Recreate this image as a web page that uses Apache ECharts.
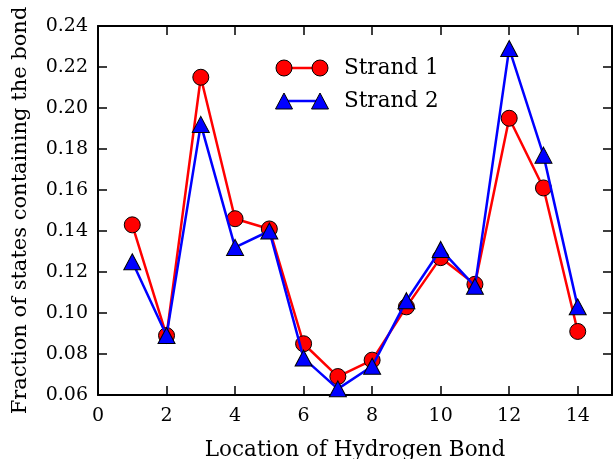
<!DOCTYPE html>
<html>
<head>
<meta charset="utf-8">
<script src="https://cdn.jsdelivr.net/npm/echarts@6/dist/echarts.min.js"></script>
<style>
  html, body { margin: 0; padding: 0; background: #fff; }
  #chart { width: 613px; height: 459px; }
</style>
</head>
<body>
<div id="chart"></div>
<script>
// Hydrogen bond positions along the strand
var bondLocations = [1, 2, 3, 4, 5, 6, 7, 8, 9, 10, 11, 12, 13, 14];
// Fraction of states in which each bond is present
var strand1 = [0.143, 0.089, 0.215, 0.146, 0.141, 0.085, 0.069, 0.077, 0.103, 0.127, 0.114, 0.195, 0.161, 0.091];
var strand2 = [0.125, 0.089, 0.192, 0.132, 0.140, 0.078, 0.063, 0.074, 0.106, 0.131, 0.113, 0.229, 0.177, 0.103];
var seriesNames = ['Strand 1', 'Strand 2'];

var FONT = 'DejaVu Serif';
var chart = echarts.init(document.getElementById('chart'), null, { renderer: 'canvas' });

function pairs(values) {
  return bondLocations.map(function (x, i) { return [x, values[i]]; });
}

var tickCommon = { show: true, inside: true, length: 9, lineStyle: { color: '#000', width: 1.5 } };
var lineCommon = { show: true, onZero: false, lineStyle: { color: '#000', width: 2 } };

var option = {
  animation: false,
  backgroundColor: '#fff',
  grid: { left: 98, right: 1, top: 26, bottom: 64, containLabel: false, outerBoundsMode: 'none' },
  xAxis: [{
    type: 'value', min: 0, max: 15, interval: 2,
    name: 'Location of Hydrogen Bond', nameLocation: 'middle', nameGap: 44,
    nameTextStyle: { fontFamily: FONT, fontSize: 21.5, color: '#000' },
    axisLine: lineCommon, axisTick: tickCommon, splitLine: { show: false },
    axisLabel: {
      margin: 12, fontFamily: FONT, fontSize: 19, color: '#000', showMaxLabel: false,
      formatter: function (v) { return v % 2 === 0 ? String(v) : ''; }
    }
  }, {
    type: 'value', min: 0, max: 15, interval: 2, position: 'top',
    axisLine: lineCommon, axisTick: tickCommon, splitLine: { show: false },
    axisLabel: { show: false }
  }],
  yAxis: [{
    type: 'value', min: 0.06, max: 0.24, interval: 0.02,
    name: 'Fraction of states containing the bond', nameLocation: 'middle', nameGap: 67,
    nameRotate: 90,
    nameTextStyle: { fontFamily: FONT, fontSize: 21, color: '#000' },
    axisLine: lineCommon, axisTick: tickCommon, splitLine: { show: false },
    axisLabel: {
      margin: 10, fontFamily: FONT, fontSize: 19, color: '#000',
      formatter: function (v) { return v.toFixed(2); }
    }
  }, {
    type: 'value', min: 0.06, max: 0.24, interval: 0.02, position: 'right',
    axisLine: lineCommon, axisTick: tickCommon, splitLine: { show: false },
    axisLabel: { show: false }
  }],
  series: [{
    name: seriesNames[0], type: 'line', z: 2,
    data: pairs(strand1),
    symbol: 'circle', symbolSize: 16,
    lineStyle: { color: '#ff0000', width: 2.5 },
    itemStyle: { color: '#ff0000', borderColor: '#000', borderWidth: 1 },
    clip: false
  }, {
    name: seriesNames[1], type: 'line', z: 3,
    data: pairs(strand2),
    symbol: 'triangle', symbolSize: [17, 16],
    lineStyle: { color: '#0000ff', width: 2.5 },
    itemStyle: { color: '#0000ff', borderColor: '#000', borderWidth: 1 },
    clip: false
  }],
  // Legend: marker-line-marker samples with series names
  graphic: [
    { type: 'line', shape: { x1: 284, y1: 68, x2: 320, y2: 68 }, style: { stroke: '#ff0000', lineWidth: 2.5 }, z: 10 },
    { type: 'circle', shape: { cx: 284, cy: 68, r: 8 }, style: { fill: '#ff0000', stroke: '#000', lineWidth: 1 }, z: 11 },
    { type: 'circle', shape: { cx: 320, cy: 68, r: 8 }, style: { fill: '#ff0000', stroke: '#000', lineWidth: 1 }, z: 11 },
    { type: 'text', left: 344, top: 57, style: { text: seriesNames[0], font: '21.5px "' + FONT + '"', fill: '#000' }, z: 11 },
    { type: 'line', shape: { x1: 284, y1: 101, x2: 320, y2: 101 }, style: { stroke: '#0000ff', lineWidth: 2.5 }, z: 10 },
    { type: 'polygon', shape: { points: [[284, 93], [275.5, 109], [292.5, 109]] }, style: { fill: '#0000ff', stroke: '#000', lineWidth: 1 }, z: 11 },
    { type: 'polygon', shape: { points: [[320, 93], [311.5, 109], [328.5, 109]] }, style: { fill: '#0000ff', stroke: '#000', lineWidth: 1 }, z: 11 },
    { type: 'text', left: 344, top: 90, style: { text: seriesNames[1], font: '21.5px "' + FONT + '"', fill: '#000' }, z: 11 }
  ]
};

chart.setOption(option);
</script>
</body>
</html>
